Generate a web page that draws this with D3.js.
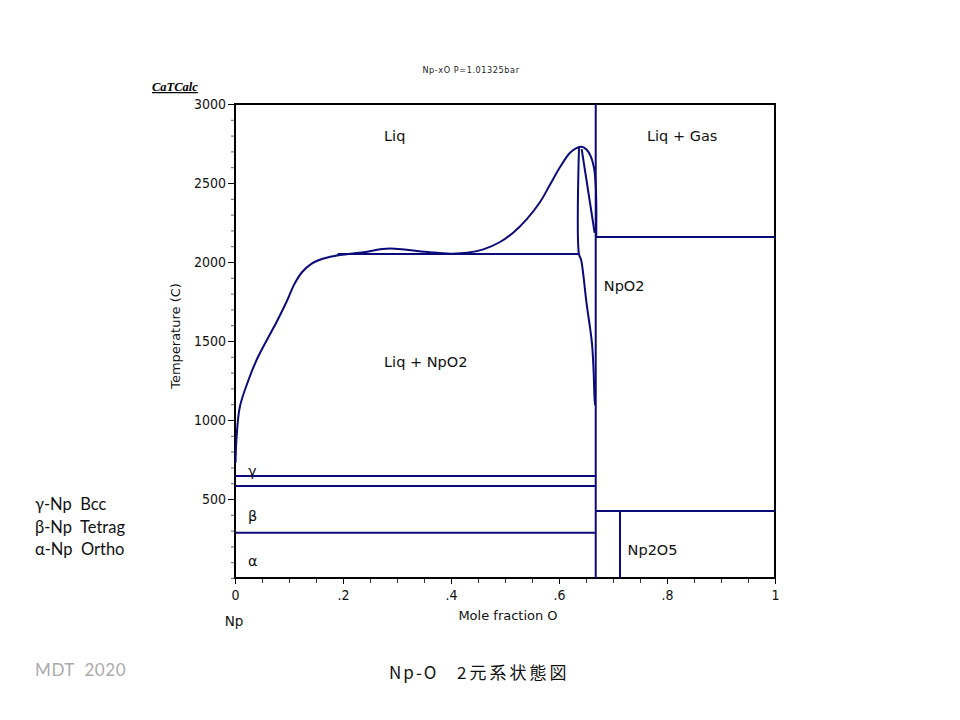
<!DOCTYPE html>
<html><head><meta charset="utf-8">
<script src="https://cdn.jsdelivr.net/npm/d3@7"></script>
<style>body{margin:0;background:#fff}svg{display:block}</style>
</head><body>
<script>
// ---- data ----
const xTickVals = [0, 0.2, 0.4, 0.6, 0.8, 1];
const xTickLabels = ["0", ".2", ".4", ".6", ".8", "1"];
const yTickVals = [500, 1000, 1500, 2000, 2500, 3000];
const liquidus = [[0.001,730],[0.003,894],[0.009,1084],[0.025,1253],[0.040,1380],[0.059,1506],[0.077,1620],[0.095,1745],[0.110,1860],[0.124,1935],[0.142,1990],[0.164,2022],[0.194,2044],[0.238,2062],[0.269,2080],[0.287,2086],[0.318,2077],[0.361,2062],[0.398,2053],[0.43,2058],[0.46,2080],[0.49,2125],[0.515,2185],[0.54,2270],[0.565,2380],[0.583,2487],[0.602,2601],[0.620,2690],[0.633,2722],[0.642,2730],[0.651,2712],[0.659,2667],[0.665,2593],[0.668,2487],[0.669,2382],[0.669,2165]];
const npo2LowerBoundary = [[0.637,2725],[0.637,2050],[0.641,2013],[0.651,1740],[0.661,1487],[0.664,1316],[0.666,1127],[0.667,1095]];
const npo2Solidus = [[0.642,2715],[0.666,2185]];
const monotectic = [[0.19,2050],[0.637,2050]];
const npo2Line = [[0.668,0],[0.668,3000]];
const np2o5Line = [[0.713,0],[0.713,424]];
const gasLine = [[0.668,2158],[1,2158]];
const np2o5Top = [[0.668,424],[1,424]];
const gammaLine = [[0,645],[0.668,645]];
const betaLine = [[0,582],[0.668,582]];
const alphaLine = [[0,287],[0.668,287]];
const phaseLabels = [
  {t:"Liq", x:0.276, y:2800},
  {t:"Liq + Gas", x:0.763, y:2800},
  {t:"NpO2", x:0.683, y:1850},
  {t:"Liq + NpO2", x:0.276, y:1370},
  {t:"Np2O5", x:0.727, y:175},
  {t:"γ", x:0.024, y:675},
  {t:"β", x:0.024, y:395},
  {t:"α", x:0.024, y:105}
];
const legendLines = ["γ-Np  Bcc", "β-Np  Tetrag", "α-Np  Ortho"];

// ---- drawing ----
const W = 960, H = 720;
const svg = d3.select("body").append("svg").attr("width", W).attr("height", H);
const x = d3.scaleLinear().domain([0, 1]).range([235, 775]);
const y = d3.scaleLinear().domain([0, 3000]).range([578, 104]);
const navy = "#0a0a78";
const tickFont = "'DejaVu Sans Condensed','DejaVu Sans',sans-serif";
const labelFont = "'DejaVu Sans',sans-serif";

// minor ticks
const gx = svg.append("g").attr("transform", "translate(0,578)");
gx.call(d3.axisBottom(x).tickValues(d3.range(0, 1.0001, 0.05)).tickSize(5).tickFormat(""));
const gy = svg.append("g").attr("transform", "translate(235,0)");
gy.call(d3.axisLeft(y).tickValues(d3.range(0, 3001, 100)).tickSize(4).tickFormat(""));
gy.call(g => g.selectAll(".tick line").attr("stroke", "#666"));
gx.call(g => g.selectAll(".tick line").attr("stroke", "#333"));
// major ticks with labels
const gx2 = svg.append("g").attr("transform", "translate(0,578)")
  .call(d3.axisBottom(x).tickValues(xTickVals).tickSize(6).tickPadding(6).tickFormat((d, i) => xTickLabels[i]));
const gy2 = svg.append("g").attr("transform", "translate(235,0)")
  .call(d3.axisLeft(y).tickValues(yTickVals).tickSize(7).tickPadding(2).tickFormat(d3.format("d")));
[gx, gy, gx2, gy2].forEach(g => g.select(".domain").remove());
[gx2, gy2].forEach(g => g.selectAll("text").attr("font-family", tickFont).attr("font-size", "14px").attr("fill", "#111"));

// frame
svg.append("rect").attr("x", 235).attr("y", 104).attr("width", 540).attr("height", 474)
  .attr("fill", "none").attr("stroke", "#000").attr("stroke-width", 2);

const line = d3.line().x(d => x(d[0])).y(d => y(d[1]));
const smooth = d3.line().x(d => x(d[0])).y(d => y(d[1])).curve(d3.curveCatmullRom.alpha(0.5));
function draw(data, gen) {
  svg.append("path").attr("d", (gen || line)(data)).attr("fill", "none")
    .attr("stroke", navy).attr("stroke-width", 2);
}
draw(liquidus, smooth);
draw(npo2LowerBoundary, smooth);
[npo2Solidus, monotectic, npo2Line, np2o5Line, gasLine, np2o5Top, gammaLine, betaLine, alphaLine].forEach(d => draw(d));

// phase labels
svg.selectAll(".pl").data(phaseLabels).enter().append("text")
  .attr("x", d => x(d.x)).attr("y", d => y(d.y)).attr("dy", "0.35em")
  .attr("font-family", labelFont).attr("font-size", "14.5px").attr("fill", "#111")
  .text(d => d.t);

// titles
svg.append("text").attr("x", 471).attr("y", 73).attr("text-anchor", "middle")
  .attr("font-family", tickFont).attr("font-size", "9px").attr("letter-spacing", "0.6px").attr("fill", "#222")
  .text("Np-xO P=1.01325bar");
svg.append("text").attr("x", 152).attr("y", 91)
  .attr("font-family", "'Liberation Serif',serif").attr("font-weight", "bold").attr("font-style", "italic")
  .attr("font-size", "12.5px").attr("text-decoration", "underline").attr("fill", "#000")
  .text("CaTCalc");
svg.append("text").attr("transform", "translate(180,336) rotate(-90)").attr("text-anchor", "middle")
  .attr("font-family", labelFont).attr("font-size", "13px").attr("fill", "#111")
  .text("Temperature (C)");
svg.append("text").attr("x", 508).attr("y", 620).attr("text-anchor", "middle")
  .attr("font-family", labelFont).attr("font-size", "13px").attr("fill", "#111")
  .text("Mole fraction O");
svg.append("text").attr("x", 234).attr("y", 626).attr("text-anchor", "middle")
  .attr("font-family", labelFont).attr("font-size", "13.5px").attr("fill", "#111")
  .text("Np");

// legend text
svg.selectAll(".lg").data(legendLines).enter().append("text")
  .attr("x", 35).attr("y", (d, i) => 510 + i * 22.5)
  .attr("font-family", "Lato,'Open Sans',sans-serif").attr("font-size", "16.5px").attr("fill", "#111")
  .style("white-space", "pre")
  .text(d => d);

svg.append("text").attr("x", 35).attr("y", 676).attr("font-family", "Lato,'Open Sans',sans-serif")
  .attr("font-size", "17px").attr("letter-spacing", "0.6px").attr("fill", "#aaaaaa").style("white-space", "pre").text("MDT  2020");
const cap = svg.append("text").attr("y", 679).attr("font-family", "'Noto Sans CJK JP',sans-serif")
  .attr("font-size", "17px").attr("fill", "#111");
cap.append("tspan").attr("x", 389).attr("letter-spacing", "2px").text("Np-O");
cap.append("tspan").attr("x", 457).attr("letter-spacing", "3px").text("2元系状態図");
</script>
</body></html>
